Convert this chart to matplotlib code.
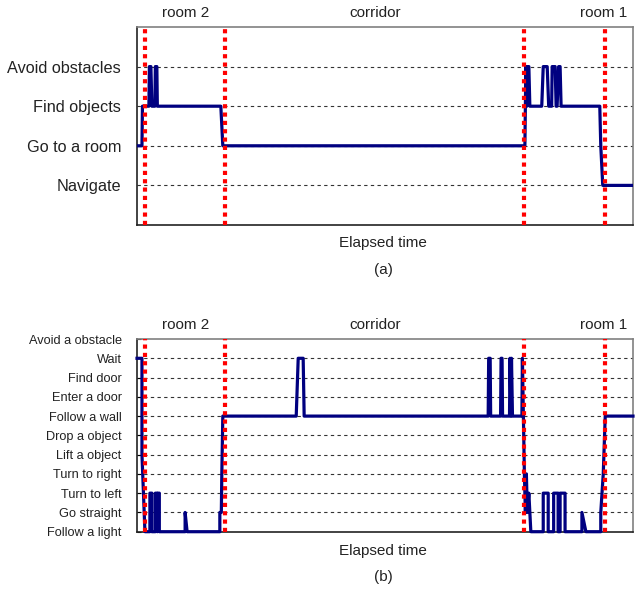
import matplotlib
matplotlib.use("Agg")
import matplotlib.pyplot as plt
from matplotlib.transforms import offset_copy

plt.rcParams['font.family'] = ['Liberation Sans', 'DejaVu Sans']

# ---- data ----
top_labels = ["Navigate", "Go to a room", "Find objects", "Avoid obstacles"]
top_t = [0, 1.0, 1.1, 2.4, 2.5, 2.8, 3.0, 3.6, 3.7, 4.0, 4.1, 16.9, 17.3,
         78.2, 78.4, 78.6, 78.8, 79.0, 79.2, 81.6, 81.9, 82.7, 83.0, 83.6, 83.7,
         84.3, 84.5, 84.7, 85.0, 85.3, 85.5, 93.3, 93.5, 93.9, 100]
top_v = [2, 2, 3, 3, 4, 4, 3, 3, 4, 4, 3, 3, 2,
         2, 4, 3, 4, 4, 3, 3, 4, 4, 3, 3, 4,
         4, 3, 3, 4, 4, 3, 3, 2, 1, 1]

bot_labels = ["Follow a light", "Go straight", "Turn to left", "Turn to right",
              "Lift a object", "Drop a object", "Follow a wall", "Enter a door",
              "Find door", "Wait", "Avoid a obstacle"]
bot_t = [0, 1.0, 1.0, 1.6, 2.6, 2.6, 3.0, 3.0, 3.7, 3.7, 4.0, 4.1, 4.2, 4.5, 4.5,
         9.7, 9.7, 10.1, 16.7, 16.7, 17.0, 17.1, 17.3,
         32.1, 32.5, 33.5, 33.7,
         70.8, 70.9, 71.2, 71.3, 73.3, 73.4, 73.6, 73.7, 75.1, 75.2, 75.4, 75.5, 75.7,
         77.6, 77.7, 78.1, 78.3, 78.5, 78.7, 79.0, 79.4,
         81.9, 81.9, 82.9, 82.9, 84.0, 84.0, 84.9, 84.9, 85.3, 85.3, 86.3, 86.3,
         89.7, 89.7, 90.5, 93.5, 93.5, 94.0, 94.4, 100]
bot_v = [10, 10, 5, 1, 1, 3, 3, 1, 1, 3, 3, 1, 3, 3, 1,
         1, 2, 1, 1, 2, 2, 4, 7,
         7, 10, 10, 7,
         7, 10, 10, 7, 7, 10, 10, 7, 7, 10, 7, 10, 7,
         7, 10, 4, 2, 4, 2, 3, 1,
         1, 3, 3, 1, 1, 3, 3, 1, 1, 3, 3, 1,
         1, 2, 1, 1, 2, 4, 7, 7]

boundaries = [1.7, 17.8, 78.0, 94.3]
regions = ["room 2", "corridor", "room 1"]
region_t = [9.8, 48.0, 94.0]

NAVY = "#000080"
TXT = "#222222"

fig = plt.figure(figsize=(6.42, 6.04), dpi=100)
ax1 = fig.add_axes([0.2134, 0.6275, 0.7726, 0.3278])
ax2 = fig.add_axes([0.2134, 0.1197, 0.7726, 0.3190])


def style(ax, labels, ylim, fs, ticks_inside):
    ax.set_xlim(0, 100)
    ax.set_ylim(*ylim)
    ax.set_xticks([])
    n = len(labels)
    ax.set_yticks(range(1, n + 1))
    ax.set_yticklabels(labels, fontsize=fs, color=TXT)
    if ticks_inside:
        ax.tick_params(axis='y', direction='in', length=3, width=0.8, pad=11)
    else:
        ax.tick_params(axis='y', length=0, pad=11.5)
    for lv in range(1, n + 1):
        if ylim[0] < lv < ylim[1]:
            ax.axhline(lv, color="#333333", ls=(0, (3, 3)), lw=0.8, zorder=1)
    for s in ['left', 'bottom']:
        ax.spines[s].set_color(TXT)
        ax.spines[s].set_linewidth(1.2)
    for s in ['top', 'right']:
        ax.spines[s].set_color("#808080")
        ax.spines[s].set_linewidth(1.2)
    for b in boundaries:
        ax.axvline(b, color="#ff0000", ls=(0, (1, 1)), lw=3, zorder=4)


style(ax1, top_labels, (0, 5), 11.7, False)
ax1.plot(top_t, top_v, color=NAVY, lw=2.3, zorder=3)

style(ax2, bot_labels, (1, 11), 9.2, True)
ax2.plot(bot_t, bot_v, color=NAVY, lw=2.3, zorder=3, clip_on=False)

for ax in (ax1, ax2):
    tr = offset_copy(ax.get_xaxis_transform(), fig=fig, x=0, y=14, units='dots')
    for name, t in zip(regions, region_t):
        ax.text(t, 1.0, name, transform=tr,
                ha='center', va='center', fontsize=11, color=TXT)

fig.text(0.597, 1 - 243 / 604, "Elapsed time", ha='center', va='center', fontsize=11, color=TXT)
fig.text(0.597, 1 - 270 / 604, "(a)", ha='center', va='center', fontsize=11, color=TXT)
fig.text(0.597, 1 - 551 / 604, "Elapsed time", ha='center', va='center', fontsize=11, color=TXT)
fig.text(0.597, 1 - 577 / 604, "(b)", ha='center', va='center', fontsize=11, color=TXT)

fig.savefig("out.png", dpi=100)
